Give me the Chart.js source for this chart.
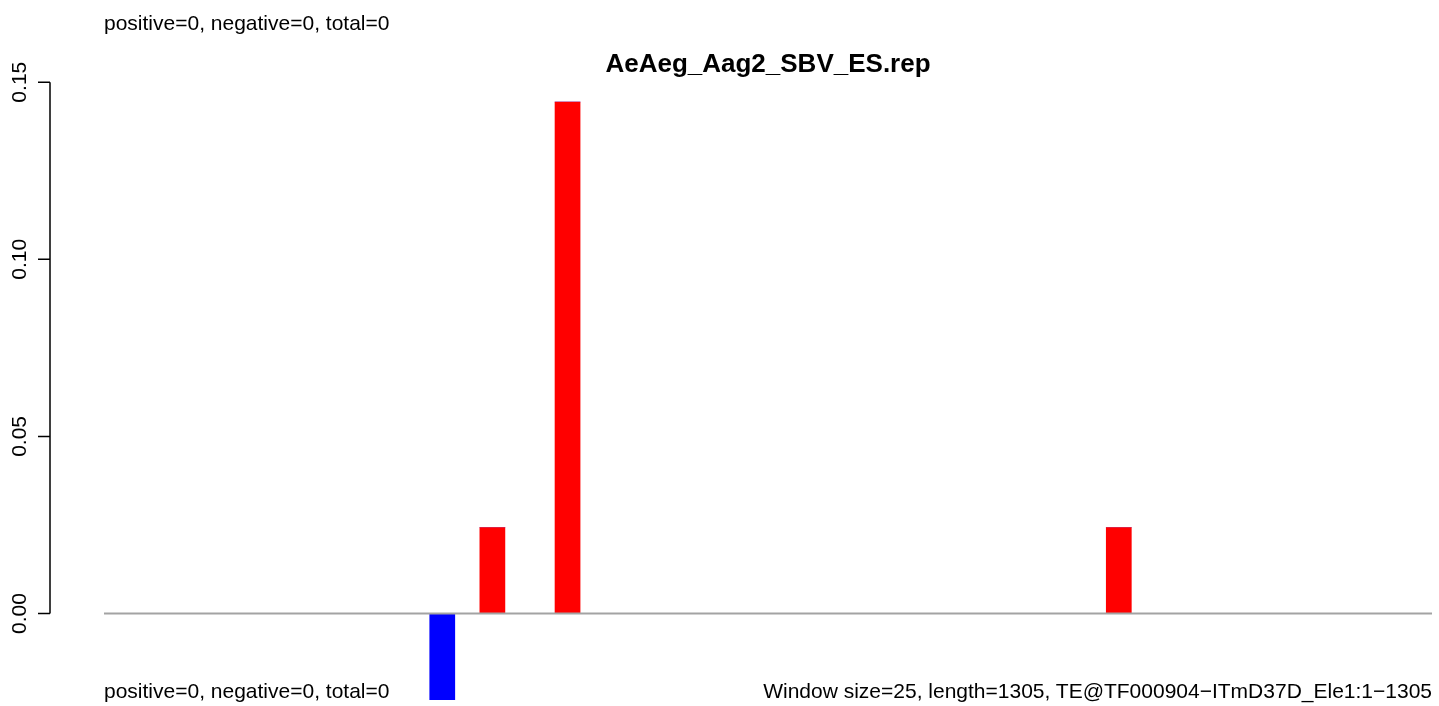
<!DOCTYPE html>
<html>
<head>
<meta charset="utf-8">
<script src="https://cdn.jsdelivr.net/npm/chart.js@4/dist/chart.umd.min.js"></script>
<style>
  body { margin: 0; background: #fff; }
  #wrap { position: relative; width: 1439px; height: 706px; font-family: "Liberation Sans", Arial, Helvetica, sans-serif; }
  .note { position: absolute; font-size: 21px; line-height: 21px; color: #000; white-space: nowrap; }
</style>
</head>
<body>
<div id="wrap">
  <canvas id="chart1" width="1439" height="706"></canvas>
  <div class="note" style="left:104px; top:12px;">positive=0, negative=0, total=0</div>
  <div class="note" style="left:104px; top:680px;">positive=0, negative=0, total=0</div>
  <div class="note" style="right:7px; top:680px;">Window size=25, length=1305, TE@TF000904&minus;ITmD37D_Ele1:1&minus;1305</div>
</div>
<script>
// window start positions (window size 25, length 1305)
var windowStarts = [
  1, 26, 51, 76, 101, 126, 151, 176, 201, 226,
  251, 276, 301, 326, 351, 376, 401, 426, 451, 476,
  501, 526, 551, 576, 601, 626, 651, 676, 701, 726,
  751, 776, 801, 826, 851, 876, 901, 926, 951, 976,
  1001, 1026, 1051, 1076, 1101, 1126, 1151, 1176, 1201, 1226,
  1251, 1276, 1301
]

// sense (red) per window
var positiveValues = [
  0, 0, 0, 0, 0, 0, 0, 0, 0, 0,
  0, 0, 0, 0, 0, 0.0243, 0, 0, 0.1444, 0,
  0, 0, 0, 0, 0, 0, 0, 0, 0, 0,
  0, 0, 0, 0, 0, 0, 0, 0, 0, 0,
  0.0243, 0, 0, 0, 0, 0, 0, 0, 0, 0,
  0, 0, 0
]

// antisense (blue) per window
var negativeValues = [
  0, 0, 0, 0, 0, 0, 0, 0, 0, 0,
  0, 0, 0, -0.0243, 0, 0, 0, 0, 0, 0,
  0, 0, 0, 0, 0, 0, 0, 0, 0, 0,
  0, 0, 0, 0, 0, 0, 0, 0, 0, 0,
  0, 0, 0, 0, 0, 0, 0, 0, 0, 0,
  0, 0, 0
]

var yTicks = [0, 0.05, 0.10, 0.15]
var yTickLabels = ['0.00', '0.05', '0.10', '0.15']

var fontFamily = '"Liberation Sans", Arial, Helvetica, sans-serif'

// R style axis + zero line
var rAxis = {
  id: 'rAxis',
  afterDatasetsDraw: function(chart) {
    var ctx = chart.ctx
    var y = chart.scales.y
    var area = chart.chartArea
    var y0 = y.getPixelForValue(0)
    ctx.save()
    ctx.strokeStyle = '#a3a3a3'
    ctx.lineWidth = 2
    ctx.beginPath()
    ctx.moveTo(area.left, y0)
    ctx.lineTo(area.right, y0)
    ctx.stroke()

    var axisX = 50
    ctx.strokeStyle = '#000'
    ctx.lineWidth = 1.5
    ctx.beginPath()
    ctx.moveTo(axisX, y.getPixelForValue(yTicks[0]))
    ctx.lineTo(axisX, y.getPixelForValue(yTicks[yTicks.length - 1]))
    yTicks.forEach(function(t) {
      var py = y.getPixelForValue(t)
      ctx.moveTo(38, py)
      ctx.lineTo(axisX, py)
    })
    ctx.stroke()

    ctx.fillStyle = '#000'
    ctx.font = '21px ' + fontFamily
    ctx.textAlign = 'center'
    ctx.textBaseline = 'alphabetic'
    yTicks.forEach(function(t, i) {
      var py = y.getPixelForValue(t)
      ctx.save()
      ctx.translate(26, py)
      ctx.rotate(-Math.PI / 2)
      ctx.fillText(yTickLabels[i], 0, 0)
      ctx.restore()
    })
    ctx.restore()
  }
}

var ctx = document.getElementById('chart1').getContext('2d')
var chart = new Chart(ctx, {
  type: 'bar',
  data: {
    labels: windowStarts,
    datasets: [
      {
        label: 'positive',
        data: positiveValues,
        backgroundColor: '#ff0000',
        borderWidth: 0,
        barPercentage: 1,
        categoryPercentage: 1
      },
      {
        label: 'negative',
        data: negativeValues,
        backgroundColor: '#0000ff',
        borderWidth: 0,
        barPercentage: 1,
        categoryPercentage: 1
      }
    ]
  },
  options: {
    responsive: false,
    animation: false,
    layout: { padding: { left: 104, right: 7, top: 49, bottom: 0 } },
    plugins: {
      legend: { display: false },
      tooltip: { enabled: false },
      title: {
        display: true,
        fullSize: false,
        text: 'AeAeg_Aag2_SBV_ES.rep',
        color: '#000',
        font: { family: fontFamily, size: 26, weight: 'bold', lineHeight: 1.2 },
        padding: { top: 0, bottom: 2 }
      }
    },
    scales: {
      x: { display: false, stacked: true, offset: true },
      y: { display: false, stacked: true, min: -0.0261, max: 0.15 }
    }
  },
  plugins: [rAxis]
})
</script>
</body>
</html>
